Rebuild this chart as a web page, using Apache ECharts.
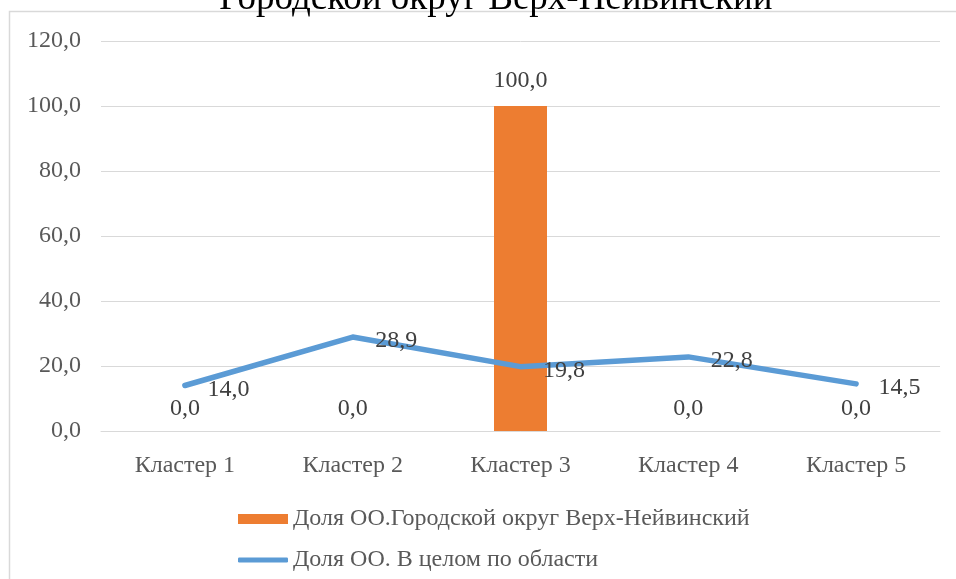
<!DOCTYPE html>
<html>
<head>
<meta charset="utf-8">
<script src="https://cdn.jsdelivr.net/npm/echarts@6/dist/echarts.min.js"></script>
<style>
  html, body { margin: 0; padding: 0; background: #fff; }
  #main { width: 956px; height: 579px; }
</style>
</head>
<body>
<div id="main"></div>
<script>
var categories = ['Кластер 1', 'Кластер 2', 'Кластер 3', 'Кластер 4', 'Кластер 5'];
var barName = 'Доля ОО.Городской округ Верх-Нейвинский';
var lineName = 'Доля ОО. В целом по области';
var barValues = [0.0, 0.0, 100.0, 0.0, 0.0];
var lineValues = [14.0, 28.9, 19.8, 22.8, 14.5];
var titleText = 'Городской округ Верх-Нейвинский';

var FONT = '"Liberation Serif", "DejaVu Serif", serif';
var FS = 24;
var fmt = function (v) { return Number(v).toFixed(1).replace('.', ','); };

// zero bars get their label a little lower, as in the original
var barData = barValues.map(function (v) {
    return { value: v, label: { distance: v === 0 ? 10 : 13 } };
});

var myChart = echarts.init(document.getElementById('main'));
var option = {
    animation: false,
    textStyle: { fontFamily: FONT },
    graphic: [
        {
            type: 'rect',
            shape: { x: 9.5, y: 11.5, width: 2000, height: 2000 },
            style: { fill: 'none', stroke: '#D9D9D9', lineWidth: 1.5 },
            silent: true
        },
        {
            type: 'text',
            x: 496, y: -1,
            style: {
                text: titleText,
                font: '37px ' + FONT,
                fill: '#000',
                align: 'center',
                verticalAlign: 'middle'
            },
            silent: true
        }
    ],
    grid: { left: 101, right: 16, top: 41, bottom: 148, containLabel: false },
    legend: [
        {
            left: 233, top: 502,
            itemWidth: 50, itemHeight: 10, itemGap: 0,
            textStyle: { fontFamily: FONT, fontSize: FS, color: '#595959' },
            data: [{ name: barName, icon: 'rect' }]
        },
        {
            left: 233, top: 543,
            itemWidth: 50, itemHeight: 5, itemGap: 0,
            textStyle: { fontFamily: FONT, fontSize: FS, color: '#595959' },
            data: [{ name: lineName, icon: 'roundRect' }]
        }
    ],
    xAxis: {
        type: 'category',
        data: categories,
        axisTick: { show: false },
        axisLine: { lineStyle: { color: '#D9D9D9', width: 1 } },
        axisLabel: { color: '#595959', fontSize: FS, fontFamily: FONT, margin: 23 }
    },
    yAxis: {
        type: 'value',
        min: 0, max: 120, interval: 20,
        axisLine: { show: false },
        axisTick: { show: false },
        splitLine: { lineStyle: { color: '#D9D9D9', width: 1 } },
        axisLabel: { color: '#595959', fontSize: FS, fontFamily: FONT, margin: 20, formatter: fmt }
    },
    series: [
        {
            name: barName,
            type: 'bar',
            data: barData,
            barWidth: 53,
            itemStyle: { color: '#ED7D31' },
            label: {
                show: true, position: 'top', distance: 13,
                color: '#404040', fontSize: FS, fontFamily: FONT,
                formatter: function (p) { return fmt(p.value); }
            }
        },
        {
            name: lineName,
            type: 'line',
            data: lineValues,
            symbol: 'circle',
            symbolSize: 1,
            showSymbol: true,
            lineStyle: { color: '#5B9BD5', width: 5.5, cap: 'round', join: 'round' },
            itemStyle: { color: '#5B9BD5' },
            label: {
                show: true, position: 'right', distance: 22, offset: [0, 4],
                color: '#404040', fontSize: FS, fontFamily: FONT,
                formatter: function (p) { return fmt(p.value); }
            },
            z: 3
        }
    ]
};
myChart.setOption(option);
window.onresize = function () { myChart.resize(); };
</script>
</body>
</html>
